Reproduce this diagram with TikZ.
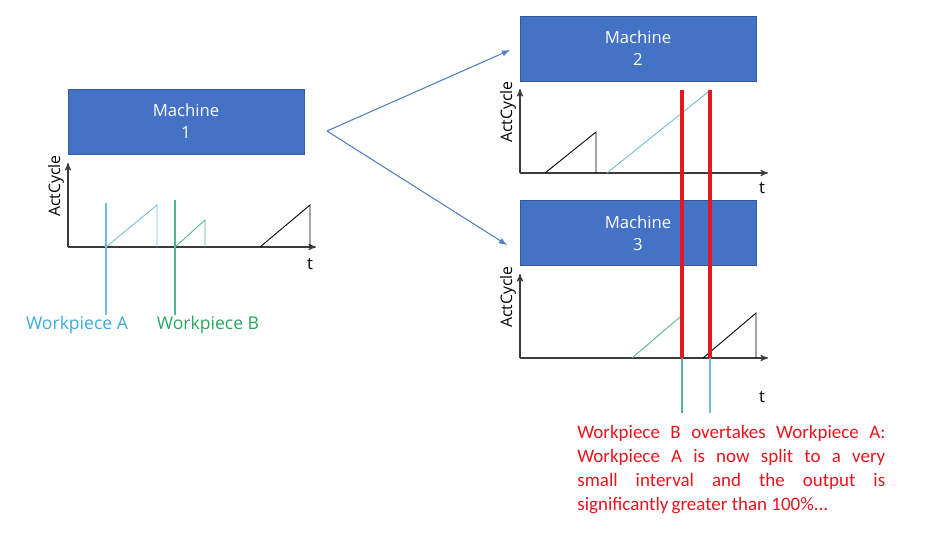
\documentclass[tikz,border=0pt]{standalone}
\usepackage{fontspec}
\setmainfont{Open Sans}
\newfontfamily\notefont{Carlito}
\usetikzlibrary{arrows}
\usetikzlibrary{positioning}
\definecolor{boxblue}{RGB}{68,114,196}
\definecolor{arrowblue}{RGB}{80,125,195}
\definecolor{wpA}{RGB}{60,170,220}
\definecolor{lineA}{RGB}{110,190,215}
\definecolor{wpB}{RGB}{40,165,95}
\definecolor{lineB}{RGB}{80,180,150}
\definecolor{axisgray}{RGB}{60,60,60}
\definecolor{alertred}{RGB}{228,22,30}
\tikzset{
  machine/.style={fill=boxblue, draw=boxblue!80!black, line width=.3pt, text=white, align=center,
    minimum width=4.72cm, minimum height=1.3cm, inner sep=0pt, font=\fontsize{9.5}{12.5}\selectfont},
  flow/.style={arrowblue, line width=.6pt, ->, >=latex},
  ramp/.style={line width=.5pt},
  overtake/.style={alertred, line width=2.6pt},
}

\begin{document}
\begin{tikzpicture}[x=0.02cm, y=-0.02cm]
\useasboundingbox (0,0) rectangle (925,556);
\node[machine] (m1) at (186,121.5) {Machine\\1};
\node[machine] (m2) at (638,48.5) {Machine\\2};
\node[machine] (m3) at (638,233) {Machine\\3};
\foreach \ox/\oy/\ty/\nm in {68/247/264/c1, 520/173/188/c2, 520/358/397/c3} {
 \draw[axisgray, line width=.6pt, ->, >=stealth'] (\ox,\oy)--++(248,0);
 \draw[axisgray, line width=.6pt, ->, >=stealth'] (\ox,\oy)--++(0,-84);
 \node[rotate=90, font=\fontsize{9}{10}\selectfont] (\nm y) at (\ox-12,\oy-61) {ActCycle};
 \node[font=\fontsize{9.5}{10}\selectfont] (\nm t) at (\ox+242,\ty) {t};
}
\draw[lineA, ramp] (106,247)--(157,205)--(157,247);
\draw[lineB, ramp] (175,247)--(205,220)--(205,247);
\draw[black, ramp] (260,247)--(310,205)--(310,247);
\draw[lineA, line width=.7pt] (106,203)--(106,315);
\draw[lineB, line width=.7pt] (175,200)--(175,315);
\node[wpA, font=\fontsize{10}{11}\selectfont] (wa) at (77,325) {Workpiece A};
\node[wpB, font=\fontsize{10}{11}\selectfont] (wb) at (208,325) {Workpiece B};
\coordinate (split) at (327,131);
\coordinate (in2) at (510,50);
\coordinate (in3) at (507,245);
\draw[flow] (split)--(in2);
\draw[flow] (split)--(in3);
\draw[black, ramp] (545,173)--(596,132)--(596,173);
\draw[lineA, ramp] (607,173)--(708,92);
\draw[lineB, ramp] (632,358)--(680,317);
\draw[black, ramp] (703,358)--(756,313)--(756,358);
\draw[lineB, line width=.7pt] (682,358)--(682,413);
\draw[lineA, line width=.7pt] (710,358)--(710,413);
\foreach \x in {682,710} {
 \draw[overtake] (\x,90)--(\x,358);
}
\node[alertred, anchor=north west, text width=6.16cm, align=justify, inner sep=0pt,
  font=\notefont\fontsize{10.8}{13.6}\selectfont] (note) at (577,425)
  {Workpiece B overtakes Workpiece A:\linebreak Workpiece A is now split to a very\linebreak small interval and the output is\linebreak \mbox{significantly\,greater than 100\%...}};
\end{tikzpicture}
\end{document}
